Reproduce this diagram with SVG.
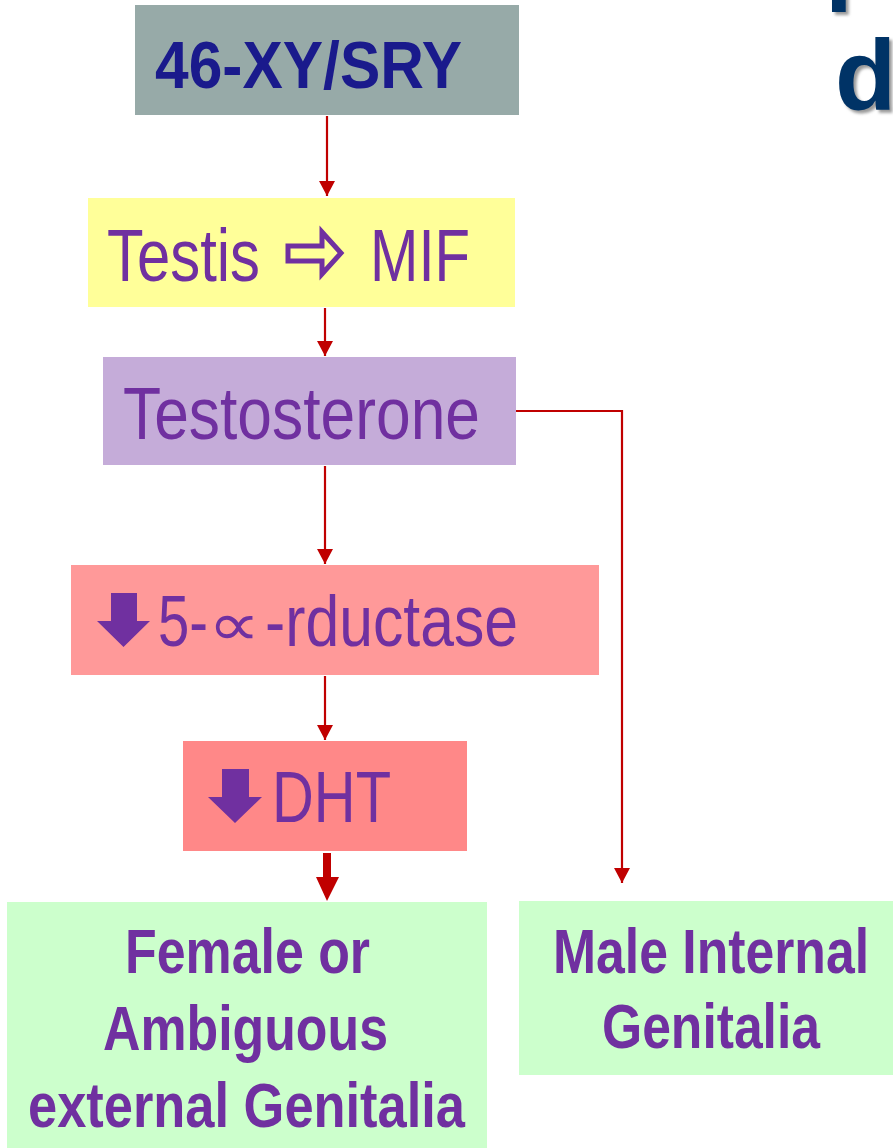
<svg xmlns="http://www.w3.org/2000/svg" width="893" height="1148" viewBox="0 0 893 1148">
  <defs>
    <style>
      .lbl { font-family: "Liberation Sans", Arial, sans-serif; fill: #7030a0; }
      .reg { font-size: 75px; font-weight: normal; }
      .bold { font-size: 63px; font-weight: bold; }
      .conn { stroke: #c00000; stroke-width: 2.2; fill: none; }
      .ttl { font-family: "Liberation Sans", Arial, sans-serif; font-weight: bold; font-size: 100px; }
    </style>
    <marker id="ah" markerUnits="userSpaceOnUse" markerWidth="16" markerHeight="16" refX="15" refY="8" orient="auto">
      <path d="M0,0 L15,8 L0,16 Z" fill="#c00000"/>
    </marker>
    <filter id="soft" x="-10%" y="-10%" width="130%" height="130%">
      <feGaussianBlur stdDeviation="1.5"/>
    </filter>
  </defs>

  <rect width="893" height="1148" fill="#ffffff"/>

  <!-- title fragment at the upper right, clipped by the page edges -->
  <g id="title">
    <text class="ttl" x="828" y="-6" fill="#9a9a9a" filter="url(#soft)">p</text>
    <text class="ttl" x="825" y="-9" fill="#003366">p</text>
    <text class="ttl" x="838" y="113" fill="#9a9a9a" filter="url(#soft)">d</text>
    <text class="ttl" x="835" y="110" fill="#003366">d</text>
  </g>

  <g id="node-sry">
    <rect x="135" y="5" width="384" height="110" fill="#97aaa8"/>
    <text x="155" y="88" font-family="Liberation Sans, Arial, sans-serif" font-weight="bold" font-size="67" fill="#1a1a8c" textLength="307" lengthAdjust="spacingAndGlyphs">46-XY/SRY</text>
  </g>

  <g id="node-testis">
    <rect x="88" y="198" width="427" height="109" fill="#ffff99"/>
    <text class="lbl reg" x="107" y="281" textLength="153" lengthAdjust="spacingAndGlyphs">Testis</text>
    <!-- outlined right arrow -->
    <polygon points="288,246 322,246 322,232 341,253 322,274 322,261 288,261" fill="none" stroke="#7030a0" stroke-width="5" stroke-linejoin="miter"/>
    <text class="lbl reg" x="370" y="281" textLength="100" lengthAdjust="spacingAndGlyphs">MIF</text>
  </g>

  <g id="node-testosterone">
    <rect x="103" y="357" width="413" height="108" fill="#c5acd9"/>
    <text class="lbl reg" x="123" y="439" textLength="357" lengthAdjust="spacingAndGlyphs">Testosterone</text>
  </g>

  <g id="node-reductase">
    <rect x="71" y="565" width="528" height="110" fill="#ff9999"/>
    <polygon points="111,593 137,593 137,621 150,621 123.5,647 97,621 111,621" fill="#7030a0"/>
    <text class="lbl" x="158" y="646" font-size="73" textLength="50" lengthAdjust="spacingAndGlyphs">5-</text>
    <text class="lbl" transform="translate(208,645) scale(1.22,1)" x="0" y="0" font-size="60" font-family="DejaVu Sans, sans-serif">∝</text>
    <text class="lbl" x="265" y="646" font-size="73" textLength="253" lengthAdjust="spacingAndGlyphs">-rductase</text>
  </g>

  <g id="node-dht">
    <rect x="183" y="741" width="284" height="110" fill="#ff8888"/>
    <polygon points="222,769 249,769 249,797 262,797 235,823 208,797 222,797" fill="#7030a0"/>
    <text class="lbl" x="272" y="822" font-size="73" textLength="119" lengthAdjust="spacingAndGlyphs">DHT</text>
  </g>

  <g id="node-external">
    <rect x="7" y="902" width="480" height="246" fill="#ccffcc"/>
    <text class="lbl bold" x="125" y="973" textLength="245" lengthAdjust="spacingAndGlyphs">Female or</text>
    <text class="lbl bold" x="103" y="1050" textLength="285" lengthAdjust="spacingAndGlyphs">Ambiguous</text>
    <text class="lbl bold" x="28" y="1127" textLength="437" lengthAdjust="spacingAndGlyphs">external Genitalia</text>
  </g>

  <g id="node-internal">
    <rect x="519" y="901" width="374" height="174" fill="#ccffcc"/>
    <text class="lbl bold" x="553" y="973" textLength="316" lengthAdjust="spacingAndGlyphs">Male Internal</text>
    <text class="lbl bold" x="602" y="1048" textLength="218" lengthAdjust="spacingAndGlyphs">Genitalia</text>
  </g>

  <g id="connectors">
    <line class="conn" x1="327" y1="116" x2="327" y2="196" marker-end="url(#ah)"/>
    <line class="conn" x1="325" y1="308" x2="325" y2="356" marker-end="url(#ah)"/>
    <line class="conn" x1="325" y1="466" x2="325" y2="564" marker-end="url(#ah)"/>
    <line class="conn" x1="325" y1="676" x2="325" y2="740" marker-end="url(#ah)"/>
    <path class="conn" d="M516,411 H622 V883" marker-end="url(#ah)"/>
    <!-- heavy arrow into the external genitalia box -->
    <polygon points="323,853 331,853 331,877 339,877 327,901 316,877 323,877" fill="#c00000"/>
  </g>
</svg>
